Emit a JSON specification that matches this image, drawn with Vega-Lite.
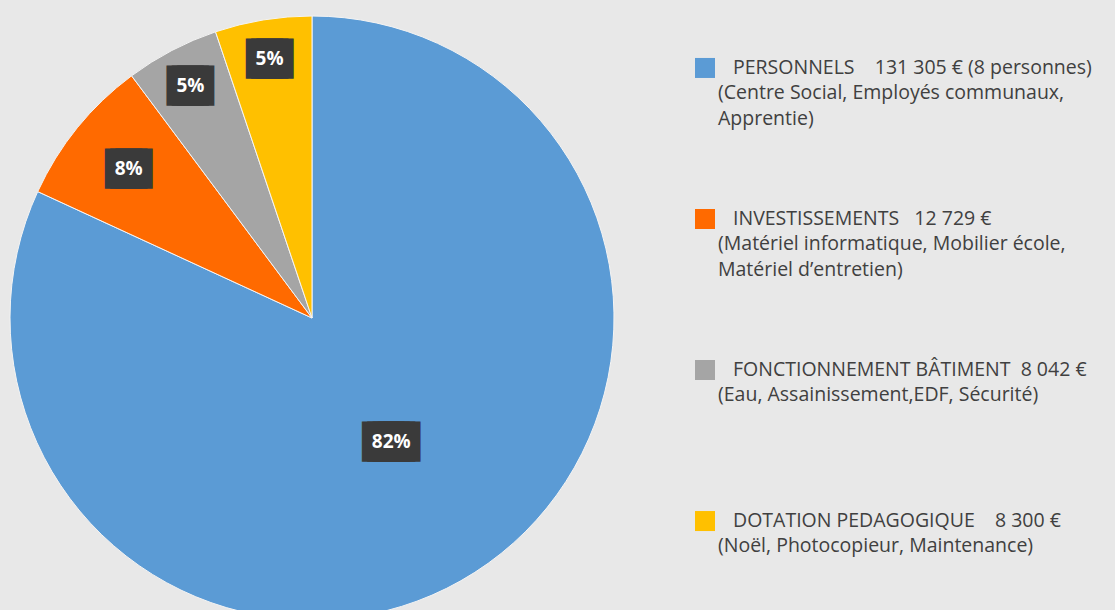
{
  "$schema": "https://vega.github.io/schema/vega-lite/v6.json",
  "background": "#e8e8e8",
  "padding": 0,
  "spacing": 71,
  "config": {"view": {"stroke": null}, "font": "Open Sans"},
  "data": {
    "values": [
      {"cat": "PERSONNELS", "value": 131305, "pct": "82%", "order": 1,
       "title": "PERSONNELS\u00a0\u00a0\u00a0\u00a0131 305 € (8 personnes)",
       "desc": "(Centre Social, Employés communaux,\nApprentie)"},
      {"cat": "INVESTISSEMENTS", "value": 12729, "pct": "8%", "order": 2,
       "title": "INVESTISSEMENTS\u00a0\u00a0\u00a012 729 €",
       "desc": "(Matériel informatique, Mobilier école,\nMatériel d’entretien)"},
      {"cat": "FONCTIONNEMENT BÂTIMENT", "value": 8042, "pct": "5%", "order": 3,
       "title": "FONCTIONNEMENT BÂTIMENT\u00a0\u00a08 042 €",
       "desc": "(Eau, Assainissement,EDF, Sécurité)"},
      {"cat": "DOTATION PEDAGOGIQUE", "value": 8300, "pct": "5%", "order": 4,
       "title": "DOTATION PEDAGOGIQUE\u00a0\u00a0\u00a0\u00a08 300 €",
       "desc": "(Noël, Photocopieur, Maintenance)"}
    ]
  },
  "hconcat": [
    {
      "width": 624,
      "height": 636,
      "encoding": {
        "theta": {"field": "value", "type": "quantitative", "stack": true},
        "order": {"field": "order", "type": "quantitative"},
        "detail": {"field": "cat", "type": "nominal"}
      },
      "layer": [
        {
          "mark": {"type": "arc", "radius": 302, "stroke": "#f4f4f4", "strokeWidth": 1},
          "encoding": {
            "color": {
              "field": "cat", "type": "nominal",
              "scale": {
                "domain": ["PERSONNELS", "INVESTISSEMENTS", "FONCTIONNEMENT BÂTIMENT", "DOTATION PEDAGOGIQUE"],
                "range": ["#5b9bd5", "#ff6a00", "#a5a5a5", "#ffc000"]
              },
              "legend": null
            }
          }
        },
        {
          "mark": {
            "type": "text",
            "radius": {"expr": "datum.order == 1 ? 147 : datum.order == 2 ? 236 : 262"},
            "text": {"expr": "datum.order == 1 ? '█████' : '███'"},
            "font": "DejaVu Sans",
            "fontSize": 6.85,
            "fill": "#3a3a3a",
            "stroke": "#3a3a3a",
            "strokeWidth": 32,
            "strokeJoin": "miter",
            "align": "center",
            "baseline": "middle"
          }
        },
        {
          "mark": {
            "type": "text",
            "radius": {"expr": "datum.order == 1 ? 147 : datum.order == 2 ? 236 : 262"},
            "font": "Open Sans",
            "fontWeight": "bold",
            "fontSize": 19,
            "fill": "#ffffff",
            "align": "center",
            "baseline": "middle"
          },
          "encoding": {"text": {"field": "pct", "type": "nominal"}}
        }
      ]
    },
    {
      "width": 420,
      "height": 589,
      "encoding": {
        "x": {"datum": 0, "type": "quantitative", "scale": {"domain": [0, 1]}, "axis": null},
        "y": {
          "field": "cat", "type": "nominal",
          "sort": {"field": "order"},
          "scale": {"type": "point", "padding": 0.45},
          "axis": null
        }
      },
      "layer": [
        {
          "mark": {"type": "point", "shape": "square", "filled": true, "size": 400, "opacity": 1},
          "encoding": {
            "color": {
              "field": "cat", "type": "nominal",
              "scale": {
                "domain": ["PERSONNELS", "INVESTISSEMENTS", "FONCTIONNEMENT BÂTIMENT", "DOTATION PEDAGOGIQUE"],
                "range": ["#5b9bd5", "#ff6a00", "#a5a5a5", "#ffc000"]
              },
              "legend": null
            }
          }
        },
        {
          "mark": {"type": "text", "align": "left", "baseline": "middle", "dx": 28, "fontSize": 19.5, "fill": "#404040"},
          "encoding": {"text": {"field": "title", "type": "nominal"}}
        },
        {
          "mark": {"type": "text", "align": "left", "baseline": "alphabetic", "dx": 13, "dy": 31, "fontSize": 19.5, "lineHeight": 26, "lineBreak": "\n", "fill": "#404040"},
          "encoding": {"text": {"field": "desc", "type": "nominal"}}
        }
      ]
    }
  ]
}
